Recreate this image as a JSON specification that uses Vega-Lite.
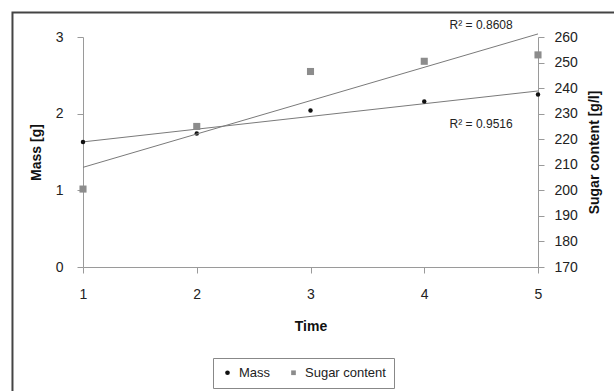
{
  "$schema": "https://vega.github.io/schema/vega-lite/v6.json",
  "width": 455,
  "height": 230,
  "autosize": "none",
  "padding": {"left": 83, "top": 37, "right": 76, "bottom": 124},
  "background": "white",
  "config": {
    "view": {"stroke": null},
    "font": "Liberation Sans",
    "axis": {
      "grid": false,
      "domainColor": "#9a9a9a",
      "tickColor": "#9a9a9a",
      "labelColor": "#222222",
      "labelFont": "Liberation Sans",
      "labelFontSize": 14,
      "labelOverlap": false,
      "labelFlush": false,
      "titleFont": "Liberation Sans",
      "titleFontSize": 14,
      "titleFontWeight": "bold",
      "titleColor": "#111111",
      "tickSize": 6
    }
  },
  "data": {
    "values": [
      {"time": 1, "series": "Mass", "value": 1.63},
      {"time": 2, "series": "Mass", "value": 1.74},
      {"time": 3, "series": "Mass", "value": 2.04},
      {"time": 4, "series": "Mass", "value": 2.16},
      {"time": 5, "series": "Mass", "value": 2.25},
      {"time": 1, "series": "Sugar content", "value": 200.5},
      {"time": 2, "series": "Sugar content", "value": 225},
      {"time": 3, "series": "Sugar content", "value": 246.5},
      {"time": 4, "series": "Sugar content", "value": 250.5},
      {"time": 5, "series": "Sugar content", "value": 253}
    ]
  },
  "layer": [
    {
      "layer": [
        {
          "data": {"values": [{}]},
          "mark": {"type": "rect", "filled": false, "stroke": "#444444", "strokeWidth": 2},
          "encoding": {
            "x": {"datum": 0.38, "type": "quantitative", "scale": {"domain": [1, 5]}, "title": "Time",
              "axis": {"values": [1, 2, 3, 4, 5], "labelPadding": 14, "titlePadding": 18, "format": "d"}},
            "x2": {"datum": 6.5},
            "y": {"datum": 3.32, "type": "quantitative", "scale": {"domain": [0, 3]}, "title": "Mass [g]",
              "axis": {"values": [0, 1, 2, 3], "labelPadding": 14, "titlePadding": 12, "format": "d"}},
            "y2": {"datum": -2}
          }
        },
        {
          "transform": [
            {"filter": "datum.series === 'Mass'"},
            {"regression": "value", "on": "time"}
          ],
          "mark": {"type": "line", "color": "#7a7a7a", "strokeWidth": 1},
          "encoding": {
            "x": {"field": "time", "type": "quantitative", "scale": {"domain": [1, 5]}, "title": "Time",
              "axis": {"values": [1, 2, 3, 4, 5], "labelPadding": 14, "titlePadding": 18, "format": "d"}},
            "y": {"field": "value", "type": "quantitative", "scale": {"domain": [0, 3]}, "title": "Mass [g]",
              "axis": {"values": [0, 1, 2, 3], "labelPadding": 14, "titlePadding": 12, "format": "d"}}
          }
        },
        {
          "transform": [{"filter": "datum.series === 'Mass'"}],
          "mark": {"type": "point", "filled": true, "opacity": 1},
          "encoding": {
            "x": {"field": "time", "type": "quantitative", "scale": {"domain": [1, 5]}, "title": "Time",
              "axis": {"values": [1, 2, 3, 4, 5], "labelPadding": 14, "titlePadding": 18, "format": "d"}},
            "y": {"field": "value", "type": "quantitative", "scale": {"domain": [0, 3]}, "title": "Mass [g]",
              "axis": {"values": [0, 1, 2, 3], "labelPadding": 14, "titlePadding": 12, "format": "d"}},
            "color": {
              "field": "series", "type": "nominal",
              "scale": {"domain": ["Mass", "Sugar content"], "range": ["#111111", "#8c8c8c"]},
              "legend": {
                "title": null,
                "orient": "none",
                "legendX": 130,
                "legendY": 321,
                "direction": "horizontal",
                "strokeColor": "#888888",
                "padding": 8,
                "labelFontSize": 13,
                "labelColor": "#222222",
                "labelOffset": 5,
                "symbolSize": 22,
                "columnPadding": 16,
                "symbolOpacity": 1
              }
            },
            "shape": {
              "field": "series", "type": "nominal",
              "scale": {"domain": ["Mass", "Sugar content"], "range": ["circle", "square"]},
              "legend": {
                "title": null,
                "orient": "none",
                "legendX": 130,
                "legendY": 321,
                "direction": "horizontal",
                "strokeColor": "#888888",
                "padding": 8,
                "labelFontSize": 13,
                "labelColor": "#222222",
                "labelOffset": 5,
                "symbolSize": 22,
                "columnPadding": 16,
                "symbolOpacity": 1
              }
            },
            "size": {"value": 20}
          }
        },
        {
          "data": {"values": [{}]},
          "mark": {"type": "text", "fontSize": 12, "color": "#222222"},
          "encoding": {
            "x": {"datum": 4.5, "type": "quantitative", "scale": {"domain": [1, 5]}, "title": "Time",
              "axis": {"values": [1, 2, 3, 4, 5], "labelPadding": 14, "titlePadding": 18, "format": "d"}},
            "y": {"datum": 1.87, "type": "quantitative", "scale": {"domain": [0, 3]}, "title": "Mass [g]",
              "axis": {"values": [0, 1, 2, 3], "labelPadding": 14, "titlePadding": 12, "format": "d"}},
            "text": {"value": "R² = 0.9516"}
          }
        }
      ]
    },
    {
      "layer": [
        {
          "transform": [
            {"filter": "datum.series === 'Sugar content'"},
            {"regression": "value", "on": "time"}
          ],
          "mark": {"type": "line", "color": "#7a7a7a", "strokeWidth": 1},
          "encoding": {
            "x": {"field": "time", "type": "quantitative", "scale": {"domain": [1, 5]}, "title": "Time"},
            "y": {
              "field": "value", "type": "quantitative",
              "scale": {"domain": [170, 260]},
              "title": "Sugar content [g/l]",
              "axis": {
                "orient": "right",
                "values": [170, 180, 190, 200, 210, 220, 230, 240, 250, 260],
                "labelPadding": 10,
                "titlePadding": 10,
                "titleAngle": -90,
                "titleBaseline": "top"
              }
            }
          }
        },
        {
          "transform": [{"filter": "datum.series === 'Sugar content'"}],
          "mark": {"type": "point", "filled": true, "opacity": 1},
          "encoding": {
            "x": {"field": "time", "type": "quantitative", "scale": {"domain": [1, 5]}, "title": "Time"},
            "y": {
              "field": "value", "type": "quantitative",
              "scale": {"domain": [170, 260]},
              "title": "Sugar content [g/l]",
              "axis": {
                "orient": "right",
                "values": [170, 180, 190, 200, 210, 220, 230, 240, 250, 260],
                "labelPadding": 10,
                "titlePadding": 10,
                "titleAngle": -90,
                "titleBaseline": "top"
              }
            },
            "color": {"field": "series", "type": "nominal"},
            "shape": {"field": "series", "type": "nominal"},
            "size": {"value": 50}
          }
        },
        {
          "data": {"values": [{}]},
          "mark": {"type": "text", "fontSize": 12, "color": "#222222"},
          "encoding": {
            "x": {"datum": 4.5, "type": "quantitative", "scale": {"domain": [1, 5]}, "title": "Time"},
            "y": {
              "datum": 264.6, "type": "quantitative",
              "scale": {"domain": [170, 260]},
              "title": "Sugar content [g/l]",
              "axis": {
                "orient": "right",
                "values": [170, 180, 190, 200, 210, 220, 230, 240, 250, 260],
                "labelPadding": 10,
                "titlePadding": 10,
                "titleAngle": -90,
                "titleBaseline": "top"
              }
            },
            "text": {"value": "R² = 0.8608"}
          }
        }
      ]
    }
  ],
  "resolve": {"scale": {"y": "independent"}}
}
